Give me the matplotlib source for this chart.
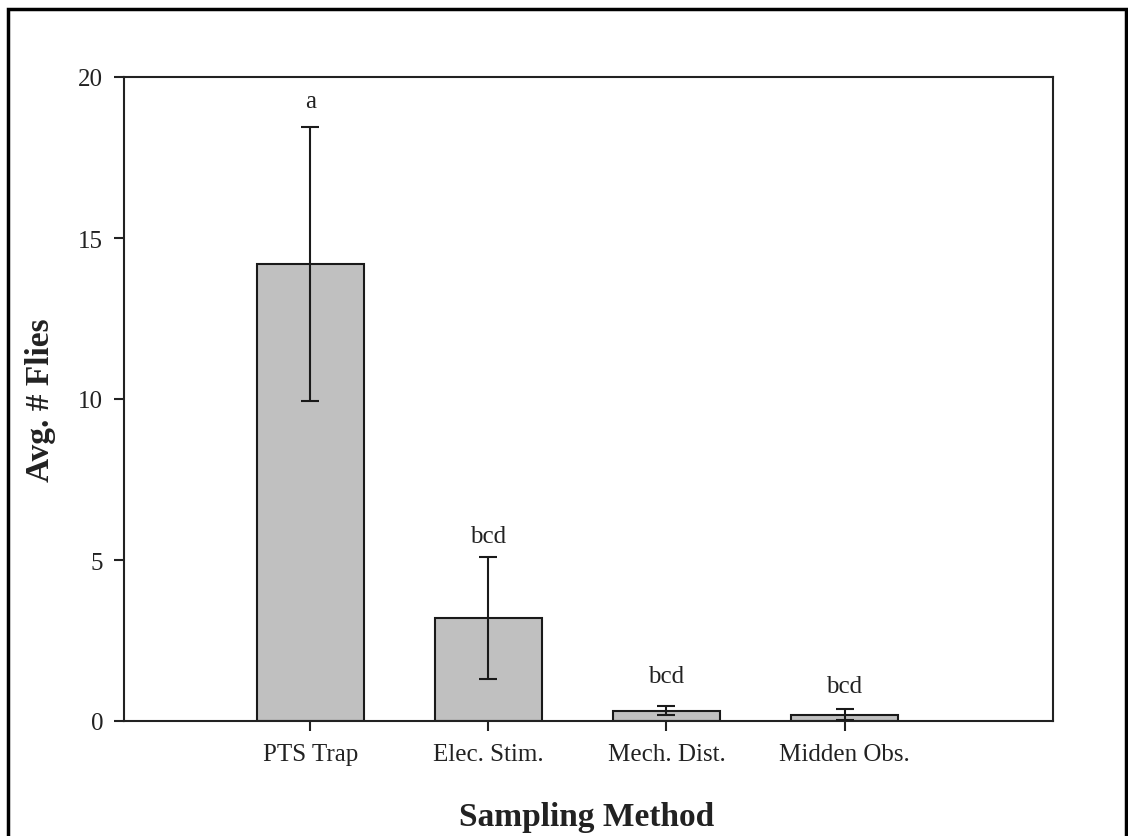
import numpy as np
import matplotlib
matplotlib.use("Agg")
import matplotlib.pyplot as plt
from matplotlib.patches import Rectangle

plt.rcParams['font.family'] = ['Liberation Serif', 'DejaVu Serif']

methods = ['PTS Trap', 'Elec. Stim.', 'Mech. Dist.', 'Midden Obs.']
avg_flies = [14.2, 3.2, 0.32, 0.2]
std_err = [4.25, 1.9, 0.14, 0.18]
groups = ['a', 'bcd', 'bcd', 'bcd']
group_y = [19.25, 5.75, 1.4, 1.1]
y_ticks = [0, 5, 10, 15, 20]

fig = plt.figure(figsize=(11.28, 8.37), dpi=100)
ax = fig.add_axes([124/1128, 1 - 722/837, (1053-124)/1128, (722-78)/837])

x = np.arange(1, len(methods) + 1)
ax.bar(x, avg_flies, width=0.6, color='#c0c0c0', edgecolor='#1a1a1a', linewidth=1.5, zorder=2)
ax.errorbar(x, avg_flies, yerr=std_err, fmt='none', ecolor='#1a1a1a',
            elinewidth=1.5, capsize=6.5, capthick=1.5, zorder=3)

for xi, g, gy in zip(x, groups, group_y):
    ax.text(xi, gy, g, ha='center', va='center', fontsize=18, color='#222222')

ax.set_xlim(-0.045, 5.17)
ax.set_ylim(0, 20)
ax.set_xticks(x)
ax.set_xticklabels(methods)
ax.set_yticks(y_ticks)
ax.tick_params(axis='both', direction='out', length=7, width=1.5, labelsize=18,
               colors='#222222')
ax.tick_params(axis='x', pad=9)
ax.tick_params(axis='y', pad=8)
for s in ax.spines.values():
    s.set_linewidth(1.5)
    s.set_color('#222222')

ax.set_ylabel('Avg. # Flies', fontsize=24, fontweight='bold', labelpad=16, color='#222222')
fig.text(587/1128, 1 - 818/837, 'Sampling Method', fontsize=24, fontweight='bold',
         ha='center', va='center', color='#222222')

# outer frame around the whole figure
fig.patches.append(Rectangle((8/1128, -0.05), (1126-8)/1128, 1 - 10/837 + 0.05,
                             transform=fig.transFigure, fill=False,
                             edgecolor='black', linewidth=2.5))

fig.savefig('out.png', dpi=100)
